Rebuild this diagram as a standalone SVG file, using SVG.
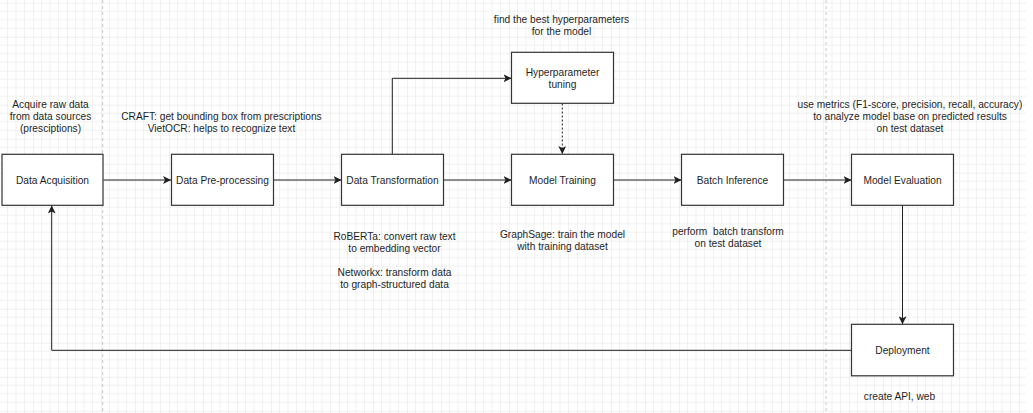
<svg xmlns="http://www.w3.org/2000/svg" width="1033" height="413" viewBox="0 0 1033 413">
<style>
.node rect{fill:#ffffff;stroke:#333333;stroke-width:1.2}
text{font-family:"Liberation Sans",Arial,sans-serif;font-size:10.2px;fill:#1f1f1f;text-anchor:middle;white-space:pre}
.conn path{fill:none;stroke:#1f1f1f;stroke-width:1}
.dot{stroke-dasharray:2 2}
.pb{stroke:#c8c8c8;stroke-width:1;stroke-dasharray:3 3}
</style>
<defs>
<pattern id="grid" patternUnits="userSpaceOnUse" x="33" y="2.7" width="34" height="34">
<path d="M8.5 0V34M17 0V34M25.5 0V34M0 8.5H34M0 17H34M0 25.5H34" stroke="#f1f1f1" stroke-width="1" fill="none"/>
<path d="M0 0V34M0 0H34" stroke="#e2e2e2" stroke-width="1" fill="none"/>
</pattern>
<marker id="arr" markerUnits="userSpaceOnUse" markerWidth="10" markerHeight="8" refX="8" refY="4" orient="auto">
<path d="M0 0L8 4L0 8L2 4Z" fill="#1f1f1f"/>
</marker>
</defs>
<rect x="0" y="0" width="1033" height="413" fill="#ffffff"/>
<rect x="0" y="0" width="1026" height="413" fill="url(#grid)"/>
<line class="pb" x1="102.7" y1="0" x2="102.7" y2="413"/>
<line class="pb" x1="826" y1="0" x2="826" y2="413"/>

<g id="connectors" class="conn">
<path d="M103.5 180H171" marker-end="url(#arr)"/>
<path d="M273.5 180H341.5" marker-end="url(#arr)"/>
<path d="M443.5 180H511.5" marker-end="url(#arr)"/>
<path d="M613.5 180H681.5" marker-end="url(#arr)"/>
<path d="M783.5 180H851.5" marker-end="url(#arr)"/>
<path d="M392.3 154.3V78.3H511.5" marker-end="url(#arr)"/>
<path class="dot" d="M562.3 103.5V154" marker-end="url(#arr)"/>
<path d="M902.5 205.5V324.3" marker-end="url(#arr)"/>
<path d="M851.5 350.3H51.7V205.5" marker-end="url(#arr)"/>
</g>

<g id="data-acquisition" class="node">
<rect x="2" y="154.3" width="101" height="51"/>
<text x="52.5" y="183.7">Data Acquisition</text>
</g>
<g id="data-preprocessing" class="node">
<rect x="171.5" y="154.3" width="102" height="51"/>
<text x="222.5" y="183.7">Data Pre-processing</text>
</g>
<g id="data-transformation" class="node">
<rect x="341.5" y="154.3" width="102" height="51"/>
<text x="392.5" y="183.7">Data Transformation</text>
</g>
<g id="hyperparameter-tuning" class="node">
<rect x="511.5" y="52.3" width="102" height="51"/>
<text x="562.5" y="75.6">Hyperparameter</text>
<text x="562.5" y="87.8">tuning</text>
</g>
<g id="model-training" class="node">
<rect x="511.5" y="154.3" width="102" height="51"/>
<text x="562.5" y="183.7">Model Training</text>
</g>
<g id="batch-inference" class="node">
<rect x="681.5" y="154.3" width="102" height="51"/>
<text x="732.5" y="183.7">Batch Inference</text>
</g>
<g id="model-evaluation" class="node">
<rect x="851.5" y="154.3" width="102" height="51"/>
<text x="902.5" y="183.7">Model Evaluation</text>
</g>
<g id="deployment" class="node">
<rect x="851.5" y="324.3" width="102" height="51.5"/>
<text x="902.5" y="353.8">Deployment</text>
</g>

<g id="annotations">
<text x="50.5" y="107.8">Acquire raw data</text>
<text x="50.5" y="120">from data sources</text>
<text x="50.5" y="132.2">(presciptions)</text>
<text x="221.5" y="120.2">CRAFT: get bounding box from prescriptions</text>
<text x="221.5" y="132.4">VietOCR: helps to recognize text</text>
<text x="561.5" y="23">find the best hyperparameters</text>
<text x="561.5" y="35.2">for the model</text>
<text x="394.5" y="239.5">RoBERTa: convert raw text</text>
<text x="394.5" y="251.7">to embedding vector</text>
<text x="394.5" y="276.2">Networkx: transform data</text>
<text x="394.5" y="288.4">to graph-structured data</text>
<text x="562.5" y="237.5">GraphSage: train the model</text>
<text x="562.5" y="249.7">with training dataset</text>
<text x="728" y="235">perform  batch transform</text>
<text x="728" y="247.2">on test dataset</text>
<text x="910" y="108">use metrics (F1-score, precision, recall, accuracy)</text>
<text x="910" y="120.2">to analyze model base on predicted results</text>
<text x="910" y="132.4">on test dataset</text>
<text x="899.5" y="399.5">create API, web</text>
</g>
</svg>
